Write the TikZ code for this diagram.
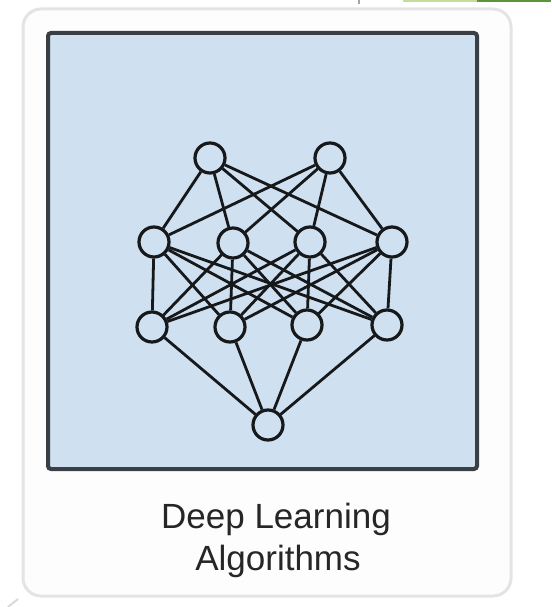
\documentclass[tikz,border=0pt]{standalone}
\usepackage{fontspec}
\setmainfont{Liberation Sans}
\definecolor{panelblue}{RGB}{207,224,241}
\definecolor{inkline}{RGB}{22,24,26}
\definecolor{frameline}{RGB}{58,63,68}
\definecolor{cardline}{RGB}{228,228,228}
\definecolor{cardfill}{RGB}{253,253,253}
\definecolor{captiongray}{RGB}{38,38,38}
\definecolor{leafgreen}{RGB}{197,220,154}
\definecolor{darkgreen}{RGB}{88,150,58}
\begin{document}
\begin{tikzpicture}[x=1pt,y=-1pt,
  neuron/.style={circle,draw=inkline,fill=panelblue,line width=3.2pt,minimum size=30pt,inner sep=0pt},
  link/.style={draw=inkline,line width=2.8pt},
  caption/.style={anchor=base,text=captiongray,font=\fontsize{35}{42}\selectfont,inner sep=0pt}]
\useasboundingbox (0,0) rectangle (551,607);
\fill[white] (0,0) rectangle (551,607);

% edge strips along the top and corner
\draw[gray!70,line width=1.5pt] (359,0) -- (359,4);
\fill[leafgreen] (403,0) rectangle (477,2.5);
\fill[darkgreen] (477,0) rectangle (551,2.5);
\draw[gray!30,line width=2pt] (8,607) -- (18,599);

% card and panel
\draw[draw=cardline,fill=cardfill,line width=3pt,rounded corners=18pt] (23,9) rectangle (511,596);
\draw[draw=frameline,fill=panelblue,line width=4pt,rounded corners=3pt] (48,33) rectangle (477,469);

% network
\node[neuron] (t1) at (210,158) {};
\node[neuron] (t2) at (330,158) {};
\node[neuron] (h1) at (154,242) {};
\node[neuron] (h2) at (233,243) {};
\node[neuron] (h3) at (310,242) {};
\node[neuron] (h4) at (392,242) {};
\node[neuron] (g1) at (152,327) {};
\node[neuron] (g2) at (230,327) {};
\node[neuron] (g3) at (307,325) {};
\node[neuron] (g4) at (387,325) {};
\node[neuron] (o)  at (268,425) {};

\foreach \a in {t1,t2}
  \foreach \b in {h1,h2,h3,h4}
    \draw[link] (\a) -- (\b);
\foreach \a in {h1,h2,h3,h4}
  \foreach \b in {g1,g2,g3,g4}
    \draw[link] (\a) -- (\b);
\foreach \a in {g1,g2,g3,g4}
  \draw[link] (\a) -- (o);

% caption
\node[caption] (cap1) at (276,528) {Deep Learning};
\node[caption] (cap2) at (278,570) {Algorithms};
\end{tikzpicture}
\end{document}
